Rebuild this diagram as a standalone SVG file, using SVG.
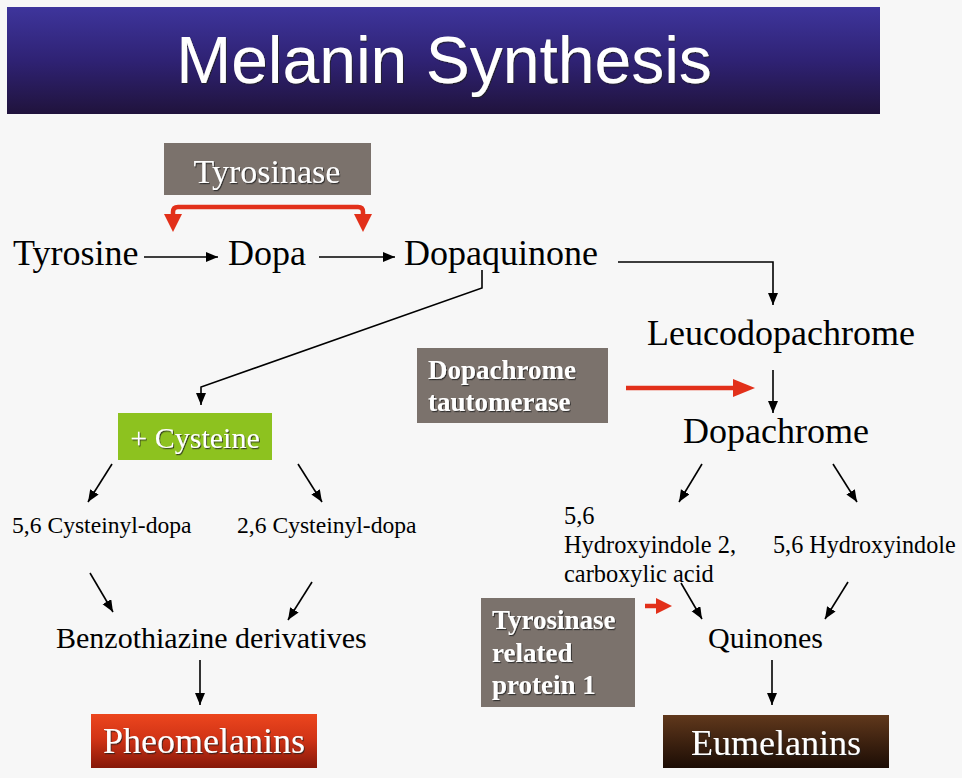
<svg xmlns="http://www.w3.org/2000/svg" width="962" height="778" viewBox="0 0 962 778">
<style>
.t{font-family:"Liberation Serif","Times New Roman",serif;fill:#000}
.w{font-family:"Liberation Serif","Times New Roman",serif;fill:#fff}
.b{font-weight:bold}
.k{stroke:#000;stroke-width:1.6;fill:none}
.r{stroke:#e2301a;stroke-width:4.5;fill:none}
.rh{fill:#e2301a}
.gray{fill:#7b726c}
</style>
<defs>
<linearGradient id="ban" x1="0" y1="0" x2="0" y2="1">
<stop offset="0" stop-color="#3e359c"/>
<stop offset="0.5" stop-color="#2f2274"/>
<stop offset="1" stop-color="#20133c"/>
</linearGradient>
<linearGradient id="pheo" x1="0" y1="0" x2="0" y2="1">
<stop offset="0" stop-color="#ec461e"/>
<stop offset="0.45" stop-color="#d23416"/>
<stop offset="1" stop-color="#861809"/>
</linearGradient>
<linearGradient id="eu" x1="0" y1="0" x2="0" y2="1">
<stop offset="0" stop-color="#60381c"/>
<stop offset="0.5" stop-color="#3e2210"/>
<stop offset="1" stop-color="#1c0d05"/>
</linearGradient>
<marker id="ah" markerUnits="userSpaceOnUse" markerWidth="13" markerHeight="11" refX="12" refY="5" orient="auto">
<path d="M0,0 L12,5 L0,10 z" fill="#000"/>
</marker>
<filter id="sh" x="-10%" y="-10%" width="120%" height="130%">
<feDropShadow dx="1" dy="1.2" stdDeviation="0.6" flood-color="#222" flood-opacity="0.8"/>
</filter>
</defs>
<rect width="962" height="778" fill="#f7f7f7"/>

<g id="title">
<rect x="7" y="7" width="873" height="107" fill="url(#ban)"/>
<text x="444" y="83" text-anchor="middle" font-family="Liberation Sans, Arial, sans-serif" font-size="66" fill="#fff" filter="url(#sh)">Melanin Synthesis</text>
</g>

<g id="tyrosinase">
<rect class="gray" x="164" y="143" width="207" height="52"/>
<text class="w" x="267" y="183" text-anchor="middle" font-size="34" filter="url(#sh)">Tyrosinase</text>
</g>
<g id="tyrosine"><text class="t" x="13" y="265" font-size="36">Tyrosine</text></g>
<g id="dopa"><text class="t" x="228" y="265" font-size="36">Dopa</text></g>
<g id="dopaquinone"><text class="t" x="404" y="265" font-size="36">Dopaquinone</text></g>
<g id="leucodopachrome"><text class="t" x="647" y="345" font-size="36">Leucodopachrome</text></g>
<g id="dopachrome-tautomerase">
<rect class="gray" x="417" y="348" width="191" height="75"/>
<text class="w b" x="428" y="379" font-size="27" filter="url(#sh)">Dopachrome</text>
<text class="w b" x="428" y="411" font-size="27" filter="url(#sh)">tautomerase</text>
</g>
<g id="dopachrome"><text class="t" x="683" y="443" font-size="36">Dopachrome</text></g>
<g id="cysteine">
<rect x="118" y="413" width="154" height="47" fill="#8dc21f"/>
<text class="w" x="195" y="448" text-anchor="middle" font-size="30" filter="url(#sh)">+ Cysteine</text>
</g>
<g id="cysteinyl-56"><text class="t" x="12" y="533" font-size="23.6">5,6 Cysteinyl-dopa</text></g>
<g id="cysteinyl-26"><text class="t" x="237" y="533" font-size="23.6">2,6 Cysteinyl-dopa</text></g>
<g id="benzothiazine"><text class="t" x="56" y="648" font-size="30">Benzothiazine derivatives</text></g>
<g id="pheomelanins">
<rect x="91" y="714" width="226" height="54" fill="url(#pheo)"/>
<text class="w" x="204" y="753" text-anchor="middle" font-size="36" filter="url(#sh)">Pheomelanins</text>
</g>
<g id="hydroxyindole-carboxylic">
<text class="t" x="564" y="524" font-size="24.4">5,6</text>
<text class="t" x="564" y="553" font-size="24.4">Hydroxyindole 2,</text>
<text class="t" x="564" y="582" font-size="24.4">carboxylic acid</text>
</g>
<g id="hydroxyindole"><text class="t" x="773" y="553" font-size="24.2">5,6 Hydroxyindole</text></g>
<g id="trp1">
<rect class="gray" x="481" y="598" width="154" height="109"/>
<text class="w b" x="492" y="629" font-size="27" filter="url(#sh)">Tyrosinase</text>
<text class="w b" x="492" y="662" font-size="27" filter="url(#sh)">related</text>
<text class="w b" x="492" y="694" font-size="27" filter="url(#sh)">protein 1</text>
</g>
<g id="quinones"><text class="t" x="708" y="648" font-size="30">Quinones</text></g>
<g id="eumelanins">
<rect x="663" y="715" width="226" height="53" fill="url(#eu)"/>
<text class="w" x="776" y="755" text-anchor="middle" font-size="36" filter="url(#sh)">Eumelanins</text>
</g>

<g id="connectors">
<line class="k" x1="144" y1="257" x2="218" y2="257" marker-end="url(#ah)"/>
<line class="k" x1="319" y1="257" x2="395" y2="257" marker-end="url(#ah)"/>
<path class="k" d="M618,262 H773 V305" marker-end="url(#ah)"/>
<path class="k" d="M482,270 V288 L201,387 V405" marker-end="url(#ah)"/>
<line class="k" x1="773" y1="370" x2="773" y2="413" marker-end="url(#ah)"/>
<line class="k" x1="112" y1="464" x2="88" y2="502" marker-end="url(#ah)"/>
<line class="k" x1="298" y1="464" x2="322" y2="502" marker-end="url(#ah)"/>
<line class="k" x1="90" y1="573" x2="113" y2="612" marker-end="url(#ah)"/>
<line class="k" x1="312" y1="582" x2="288" y2="620" marker-end="url(#ah)"/>
<line class="k" x1="200" y1="660" x2="200" y2="705" marker-end="url(#ah)"/>
<line class="k" x1="702" y1="464" x2="679" y2="502" marker-end="url(#ah)"/>
<line class="k" x1="833" y1="464" x2="857" y2="502" marker-end="url(#ah)"/>
<line class="k" x1="681" y1="583" x2="702" y2="619" marker-end="url(#ah)"/>
<line class="k" x1="848" y1="582" x2="825" y2="619" marker-end="url(#ah)"/>
<line class="k" x1="772" y1="660" x2="772" y2="705" marker-end="url(#ah)"/>
<path class="r" d="M173,216 V212 Q173,207 178,207 H358 Q363,207 363,212 V216"/>
<polygon class="rh" points="164,214 182,214 173,232"/>
<polygon class="rh" points="354,214 372,214 363,232"/>
<line class="r" x1="626" y1="388" x2="736" y2="388"/>
<polygon class="rh" points="733,379 755,388 733,397"/>
<line class="r" x1="645" y1="606" x2="658" y2="606"/>
<polygon class="rh" points="656,598 672,606 656,614"/>
</g>
</svg>
